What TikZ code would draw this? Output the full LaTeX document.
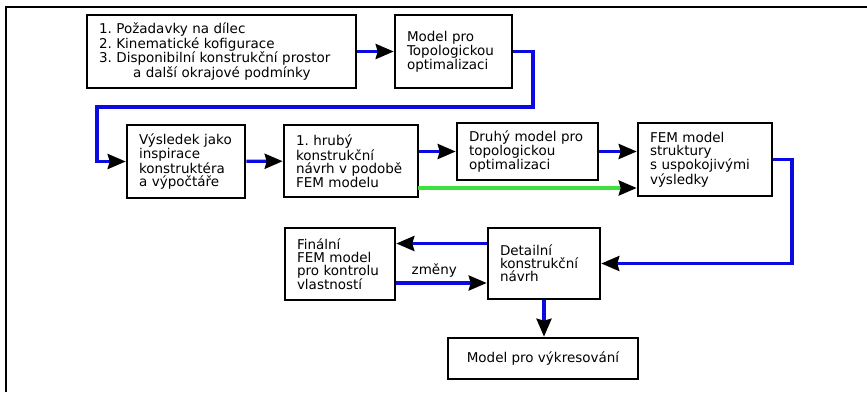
\documentclass[tikz,border=0pt]{standalone}
\usepackage{fontspec}
\setmainfont{DejaVu Sans}
\usetikzlibrary{arrows.meta,positioning,calc}
\definecolor{flowblue}{RGB}{10,10,225}
\definecolor{flowgreen}{RGB}{60,225,60}
\frenchspacing

\begin{document}
\begin{tikzpicture}[x=1pt,y=-1pt,
  box/.style={draw=black,line width=2.6pt,fill=white,align=left,
    inner xsep=12pt,inner ysep=0pt,
    font=\fontsize{13.5}{13}\selectfont},
  flow/.style={draw=flowblue,line width=3.2pt,
    -{Stealth[length=18pt,width=15pt,inset=2pt,color=black]}}]
\useasboundingbox (0,0) rectangle (867,392);
\draw[line width=2.8pt] (6,392) -- (6,7) -- (867,7);

\node[box,text width=245pt,minimum height=73pt] (req) at (221.5,51.5)
{1. Požadavky na dílec\\2. Kinematické kofigurace\\
3. Disponibilní konstrukční prostor\\\hspace*{34pt}a další okrajové podmínky};
\node[box,text width=93pt,minimum height=73pt] (topo) at (453.5,51.5)
{Model pro\\Topologickou\\optimalizaci};
\node[box,text width=94pt,minimum height=73pt] (insp) at (186,161.5)
{Výsledek jako\\inspirace\\konstruktéra\\a výpočtáře};
\node[box,text width=110pt,minimum height=72pt] (rough) at (351,161)
{1. hrubý\\konstrukční\\návrh v podobě\\FEM modelu};
\node[box,text width=117pt,minimum height=57pt] (second) at (527.5,151.5)
{Druhý model pro\\topologickou\\optimalizaci};
\node[box,text width=110pt,minimum height=73pt] (fem) at (705,159.5)
{FEM model\\struktury\\s uspokojivými\\výsledky};
\node[box,text width=86pt,minimum height=72pt] (final) at (340,264)
{Finální\\FEM model\\pro kontrolu\\vlastností};
\node[box,text width=88pt,minimum height=71pt] (detail) at (544,263.5)
{Detailní\\konstrukční\\návrh};
\node[box,align=center,minimum width=190pt,minimum height=41pt] (drawing) at (543,358.5)
{Model pro výkresování};

% connectors
\coordinate (turnA) at (533,107);
\coordinate (turnB) at (97,107);
\coordinate (turnC) at (792,263.5);
\coordinate (green) at (418,188);
\coordinate (back) at ([yshift=20pt]detail.west);
\coordinate (fwd) at ([yshift=-19pt]final.east);

\draw[flow] (req) -- (topo);
\draw[flow] (topo.east) -| (turnA) -- (turnB) |- (insp.west);
\draw[flow] (insp) -- (rough);
\draw[flow] (second.west -| rough.east) -- (second.west);
\draw[flow] (second.east) -- (second.east -| fem.west);
\draw[flow,draw=flowgreen] (green) -- (green -| fem.west);
\draw[flow] (fem.east) -| (turnC) -- (detail.east);
\draw[flow] (back) -- (back -| final.east);
\draw[flow] (fwd) -- (fwd -| detail.west)
  node[pos=0.42,above=1pt,font=\fontsize{13.5}{13}\selectfont] {změny};
\draw[flow] (detail.south) -- (detail.south |- drawing.north);
\end{tikzpicture}
\end{document}
